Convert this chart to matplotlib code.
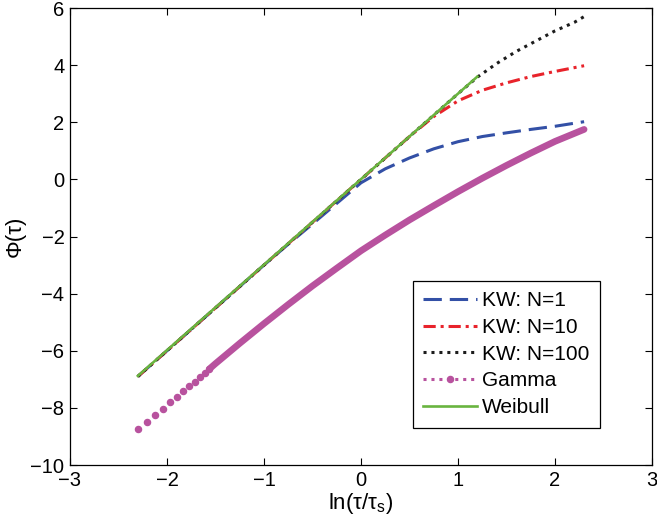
import matplotlib
matplotlib.use("Agg")
import matplotlib.pyplot as plt
from matplotlib.lines import Line2D

plt.rcParams['font.family'] = ['Liberation Sans', 'DejaVu Sans']
plt.rcParams['mathtext.default'] = 'regular'

# KW curves, N = 1, 10, 100
kw1_x = [-2.3, -1.5, -1.0, -0.75, -0.5, -0.25, 0.0, 0.25, 0.5, 0.75, 1.0, 1.25, 1.5, 1.75, 2.0, 2.3]
kw1_y = [-6.9, -4.5, -3.0, -2.27, -1.56, -0.84, -0.12, 0.37, 0.75, 1.07, 1.32, 1.5, 1.63, 1.75, 1.86, 2.02]

kw10_x = [-2.3, -1.0, 0.0, 0.5, 0.75, 1.0, 1.25, 1.5, 1.75, 2.0, 2.3]
kw10_y = [-6.9, -3.0, 0.0, 1.5, 2.2, 2.75, 3.12, 3.38, 3.6, 3.78, 3.98]

kw100_x = [-2.3, -1.0, 0.0, 1.0, 1.2, 1.4, 1.6, 1.8, 2.0, 2.2, 2.3]
kw100_y = [-6.9, -3.0, 0.0, 3.0, 3.58, 4.06, 4.48, 4.84, 5.2, 5.5, 5.7]

# Gamma: separated sample points at the low end, dense band above
gamma_dot_x = [-2.299, -2.203, -2.12, -2.038, -1.966, -1.897, -1.832, -1.77,
               -1.715, -1.66, -1.608, -1.564]
gamma_dot_y = [-8.75, -8.48, -8.25, -8.03, -7.81, -7.61, -7.42, -7.25,
               -7.08, -6.93, -6.79, -6.64]
gamma_band_x = [-1.564, -1.5, -1.25, -1.0, -0.75, -0.5, -0.25, 0.0, 0.25,
                0.5, 0.75, 1.0, 1.25, 1.5, 1.75, 2.0, 2.3]
gamma_band_y = [-6.64, -6.45, -5.74, -5.05, -4.38, -3.73, -3.11, -2.5, -1.95,
                -1.42, -0.92, -0.43, 0.04, 0.49, 0.92, 1.33, 1.75]

# Weibull
weib_x = [-2.3, 1.2]
weib_y = [-6.88, 3.6]

c_blue = '#3350a6'
c_red = '#e8232b'
c_black = '#1c1c1c'
c_mag = '#b8529e'
c_green = '#69b43f'

fig = plt.figure(figsize=(6.57, 5.28), dpi=100)
ax = fig.add_axes([0.1065, 0.1193, 0.8859, 0.8655])

ax.plot(kw1_x, kw1_y, color=c_blue, lw=2.2, dashes=(6, 2.6), label='KW: N=1')
ax.plot(kw10_x, kw10_y, color=c_red, lw=2.2, dashes=(4, 1.6, 1, 1.6), label='KW: N=10')
ax.plot(kw100_x, kw100_y, color=c_black, lw=2.2, dashes=(1, 1.6), label='KW: N=100')
ax.plot(gamma_dot_x, gamma_dot_y, ls='none', marker='o', ms=4.4, mec=c_mag,
        mfc=c_mag, zorder=3)
ax.plot(gamma_band_x, gamma_band_y, color=c_mag, lw=4.8,
        solid_capstyle='round', solid_joinstyle='round', zorder=3)
ax.plot(weib_x, weib_y, color=c_green, lw=1.9, label='Weibull', zorder=4)

ax.set_xlim(-3, 3)
ax.set_ylim(-10, 6)
ax.set_xticks(range(-3, 4))
ax.set_yticks(range(-10, 7, 2))
ax.tick_params(direction='in', top=True, right=True, labelsize=14.5,
               length=5, width=0.8, pad=4)
for s in ax.spines.values():
    s.set_linewidth(0.9)

ax.set_xlabel('ln(τ/τ$_s$)', fontsize=16, labelpad=1)
ax.set_ylabel('Φ(τ)', fontsize=16, labelpad=3)

handles = [
    Line2D([], [], color=c_blue, lw=2.2, dashes=(6, 2.6)),
    Line2D([], [], color=c_red, lw=2.2, dashes=(4, 1.6, 1, 1.6)),
    Line2D([], [], color=c_black, lw=2.2, dashes=(1, 1.6)),
    Line2D([], [], color=c_mag, lw=2.2, dashes=(1, 1.6), marker='o', ms=4.4),
    Line2D([], [], color=c_green, lw=1.9),
]
labels = ['KW: N=1', 'KW: N=10', 'KW: N=100', 'Gamma', 'Weibull']
leg = ax.legend(handles, labels, loc='lower left', bbox_to_anchor=(0.589, 0.082),
                fontsize=15, handlelength=2.6, handletextpad=0.24,
                labelspacing=0.37, borderpad=0.5, borderaxespad=0,
                fancybox=False, framealpha=1, edgecolor='black')
leg.get_frame().set_linewidth(0.9)

fig.savefig('out.png', dpi=100)
